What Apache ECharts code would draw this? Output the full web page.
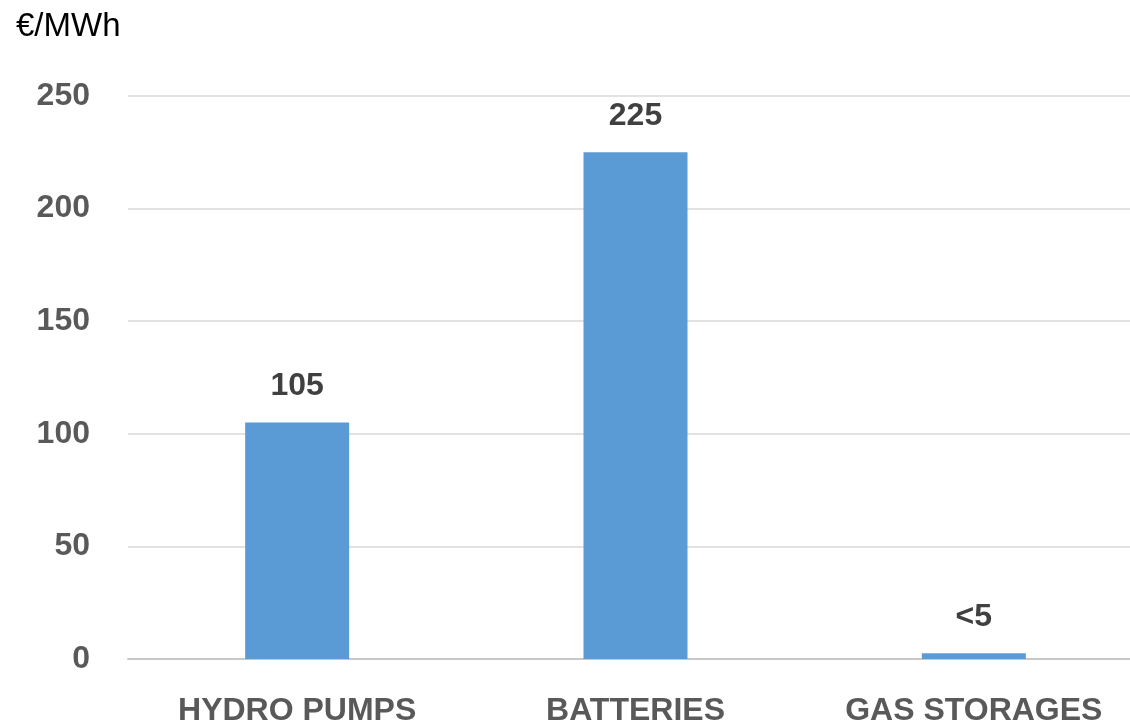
<!DOCTYPE html>
<html>
<head>
<meta charset="utf-8">
<title>Storage cost €/MWh</title>
<script src="https://cdn.jsdelivr.net/npm/echarts@6/dist/echarts.min.js"></script>
<style>
  html, body { margin: 0; padding: 0; background: #ffffff; overflow: hidden; }
  /* the plot area runs slightly past the right edge of the page */
  #chart { width: 1143px; height: 727px; }
</style>
</head>
<body>
<div id="chart"></div>
<script>
// Storage technologies and their cost per MWh
const categories = ['HYDRO PUMPS', 'BATTERIES', 'GAS STORAGES'];
const costValues = [105, 225, 2.5];
const valueLabels = ['105', '225', '<5'];
const yTicks = [0, 50, 100, 150, 200, 250];
const unitLabel = '€/MWh';

const chart = echarts.init(document.getElementById('chart'), null, { renderer: 'canvas' });

const FONT = '"Liberation Sans", Arial, sans-serif';

chart.setOption({
  animation: false,
  backgroundColor: '#ffffff',
  title: {
    text: unitLabel,
    left: 11,
    top: 5,
    textStyle: { fontFamily: FONT, fontSize: 33, fontWeight: 'normal', color: '#000000' }
  },
  grid: { left: 128, top: 96, height: 565, right: 0, containLabel: false },
  xAxis: {
    type: 'category',
    data: categories,
    axisTick: { show: false },
    axisLine: { show: true, lineStyle: { color: '#c8c8c8', width: 2 } },
    axisLabel: {
      margin: 36,
      fontFamily: FONT,
      fontSize: 32,
      fontWeight: 'bold',
      color: '#595959',
      interval: 0
    }
  },
  yAxis: {
    type: 'value',
    min: yTicks[0],
    max: yTicks[yTicks.length - 1],
    interval: yTicks[1] - yTicks[0],
    axisLine: { show: false },
    axisTick: { show: false },
    splitLine: { lineStyle: { color: '#d9d9d9', width: 1.5 } },
    axisLabel: {
      margin: 38,
      fontFamily: FONT,
      fontSize: 32,
      fontWeight: 'bold',
      color: '#595959'
    }
  },
  series: [{
    type: 'bar',
    data: costValues,
    barWidth: 104,
    itemStyle: { color: '#5b9bd5' },
    label: {
      show: true,
      position: 'top',
      distance: 20,
      fontFamily: FONT,
      fontSize: 32,
      fontWeight: 'bold',
      color: '#404040',
      formatter: (p) => valueLabels[p.dataIndex]
    }
  }]
});
</script>
</body>
</html>
